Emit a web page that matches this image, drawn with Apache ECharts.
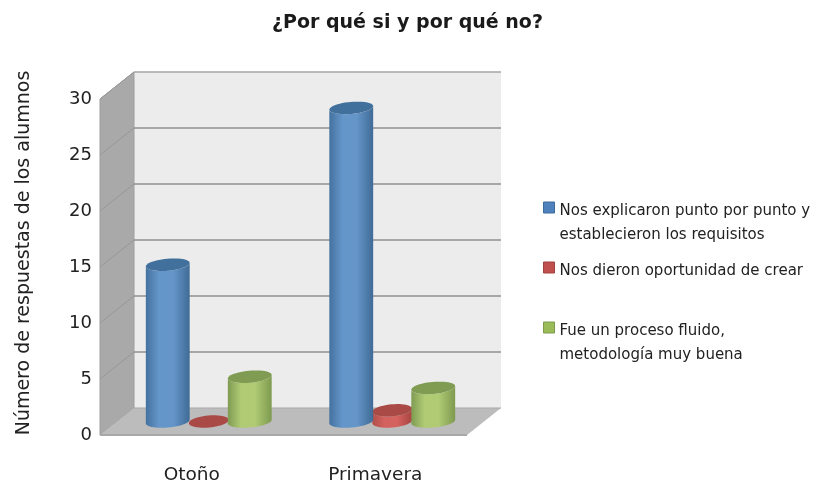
<!DOCTYPE html>
<html><head><meta charset="utf-8">
<style>html,body{margin:0;padding:0;background:#fff}#c{width:817px;height:483px;filter:blur(0.5px)}</style>
<script src="https://cdn.jsdelivr.net/npm/echarts@6/dist/echarts.min.js"></script>
</head><body><div id="c"></div>
<script>
const categories = ['Otoño', 'Primavera'];
const seriesNames = [
  'Nos explicaron punto por punto y establecieron los requisitos',
  'Nos dieron oportunidad de crear',
  'Fue un proceso fluido, metodología muy buena'
];
const legendLabels = [
  '\nNos explicaron punto por punto y\nestablecieron los requisitos',
  'Nos dieron oportunidad de crear',
  '\nFue un proceso fluido,\nmetodología muy buena'
];
const explicaron = [14, 28];
const oportunidad = [0, 1];
const fluido = [4, 3];
const yTicks = [0, 5, 10, 15, 20, 25, 30];

const FONT = '"DejaVu Sans"';
const DX = 34, DY = -27;          // depth of the 3D box
const TILT = -5 * Math.PI / 180;  // tilt of the cylinder ellipses

const palettes = [
  {edgeL:'#44729f', mid:'#6596ca', edgeR:'#3f6b96', top:'#42709d', legend:'#4f81bd', border:'#3c6a9a', rx:22, slot:-41},
  {edgeL:'#b04f4b', mid:'#d4625e', edgeR:'#a8453f', top:'#a94a46', legend:'#c0504d', border:'#a04340', rx:20, slot:0},
  {edgeL:'#7f9b52', mid:'#b0cb74', edgeR:'#7d9a4f', top:'#7f9c52', legend:'#9bbb59', border:'#7f9a4d', rx:22, slot:41}
];

function ellipsePoint(cx, cy, rx, ry, t) {
  const c = Math.cos(t), s = Math.sin(t);
  return [cx + rx * c * Math.cos(TILT) - ry * s * Math.sin(TILT),
          cy + rx * c * Math.sin(TILT) + ry * s * Math.cos(TILT)];
}
function arcPoints(cx, cy, rx, ry, from, to) {
  const pts = [];
  for (let i = 0; i <= 48; i++) pts.push(ellipsePoint(cx, cy, rx, ry, from + (to - from) * i / 48));
  return pts;
}

function cylinder(p) {
  const RY = 6;
  return function (params, api) {
    const topPt = api.coord([api.value(0), api.value(1)]);
    const basePt = api.coord([api.value(0), 0]);
    const cx = topPt[0] + DX / 2 + p.slot;
    const yb = basePt[1] + DY / 2, yt = topPt[1] + DY / 2;
    const body = arcPoints(cx, yb, p.rx, RY, Math.PI, 0).concat(arcPoints(cx, yt, p.rx, RY, 0, Math.PI));
    return {type:'group', children:[
      {type:'polygon', shape:{points:body}, style:{fill:{type:'linear',x:0,y:0,x2:1,y2:0,colorStops:[
        {offset:0,color:p.edgeL},{offset:0.3,color:p.mid},{offset:0.62,color:p.mid},{offset:1,color:p.edgeR}]}}},
      {type:'polygon', shape:{points:arcPoints(cx, yt, p.rx, RY, 0, 2 * Math.PI)}, style:{fill:p.top}}
    ]};
  };
}

function walls(params, api) {
  const cs = params.coordSys;
  const L = cs.x, R = cs.x + cs.width, B = api.coord([0, 0])[1], T = api.coord([0, 30])[1];
  const line = (pts, color, w) => ({type:'polyline', shape:{points:pts}, style:{fill:null, stroke:color, lineWidth:w}});
  const kids = [
    {type:'polygon', shape:{points:[[L+DX,T+DY],[R+DX,T+DY],[R+DX,B+DY],[L+DX,B+DY]]}, style:{fill:'#ececec'}},
    {type:'polygon', shape:{points:[[L,T],[L+DX,T+DY],[L+DX,B+DY],[L,B]]}, style:{fill:'#a9a9a9', stroke:'#9d9d9d', lineWidth:1}},
    {type:'polygon', shape:{points:[[L,B],[L+DX,B+DY],[R+DX,B+DY],[R,B]]}, style:{fill:'#bcbcbc'}},
    line([[L,B],[R,B]], '#a8a8a8', 2),
    line([[L+DX,B+DY],[R+DX,B+DY]], '#a9a9a9', 1)
  ];
  yTicks.forEach(v => {
    const y = api.coord([0, v])[1];
    if (v > 0) {
      kids.push(line([[L, y],[L+DX, y+DY]], '#979797', 1));
      kids.push(line([[L+DX, y+DY],[R+DX, y+DY]], v === 30 ? '#a6a6a6' : '#8f8f8f', 1.6));
    }
  });
  return {type:'group', children:kids};
}

const allValues = [explicaron, oportunidad, fluido];
const zOrder = [3, 2, 4];
const chart = echarts.init(document.getElementById('c'), null, {renderer:'canvas'});
chart.setOption({
  animation:false,
  backgroundColor:'#fff',
  title:{text:'¿Por qué si y por qué no?', left:267, top:9,
    textStyle:{fontFamily:FONT, fontSize:19, fontWeight:'bold', color:'#1a1a1a'}},
  legend:{
    left:538, top:170.5, orient:'vertical', itemGap:12, itemWidth:11, itemHeight:19,
    icon:'path://M0 0H11V11H0Z M0 19L0 19',
    data:seriesNames.map((n,i)=>({name:n, itemStyle:{color:palettes[i].legend, borderColor:palettes[i].border, borderWidth:1}})),
    formatter:n=>legendLabels[seriesNames.indexOf(n)],
    textStyle:{fontFamily:FONT, fontSize:15, color:'#222', lineHeight:24}
  },
  grid:{left:100, top:99, width:367, height:336, outerBoundsMode:'none'},
  xAxis:{type:'category', data:categories, axisLine:{show:false}, axisTick:{show:false}, splitLine:{show:false},
    axisLabel:{fontFamily:FONT, fontSize:18.5, color:'#222', margin:31}},
  yAxis:{type:'value', min:0, max:30, interval:5, axisLine:{show:false}, axisTick:{show:false}, splitLine:{show:false},
    name:'Número de respuestas de los alumnos', nameLocation:'middle', nameGap:66,
    nameTextStyle:{fontFamily:FONT, fontSize:19, color:'#222', padding:[0,0,0,28]},
    axisLabel:{fontFamily:FONT, fontSize:18, color:'#222', margin:8, customValues:yTicks}},
  series:[
    {type:'custom', name:'box', silent:true, z:1, data:[[0,0]], encode:{x:0,y:1}, renderItem:walls, clip:false, legendHoverLink:false}
  ].concat(seriesNames.map((n,i)=>({
    type:'custom', name:n, z:zOrder[i], clip:false, encode:{x:0,y:1},
    itemStyle:{color:palettes[i].legend},
    data:allValues[i].map((v,k)=>[k,v]),
    renderItem:cylinder(palettes[i])
  })))
});
</script></body></html>
